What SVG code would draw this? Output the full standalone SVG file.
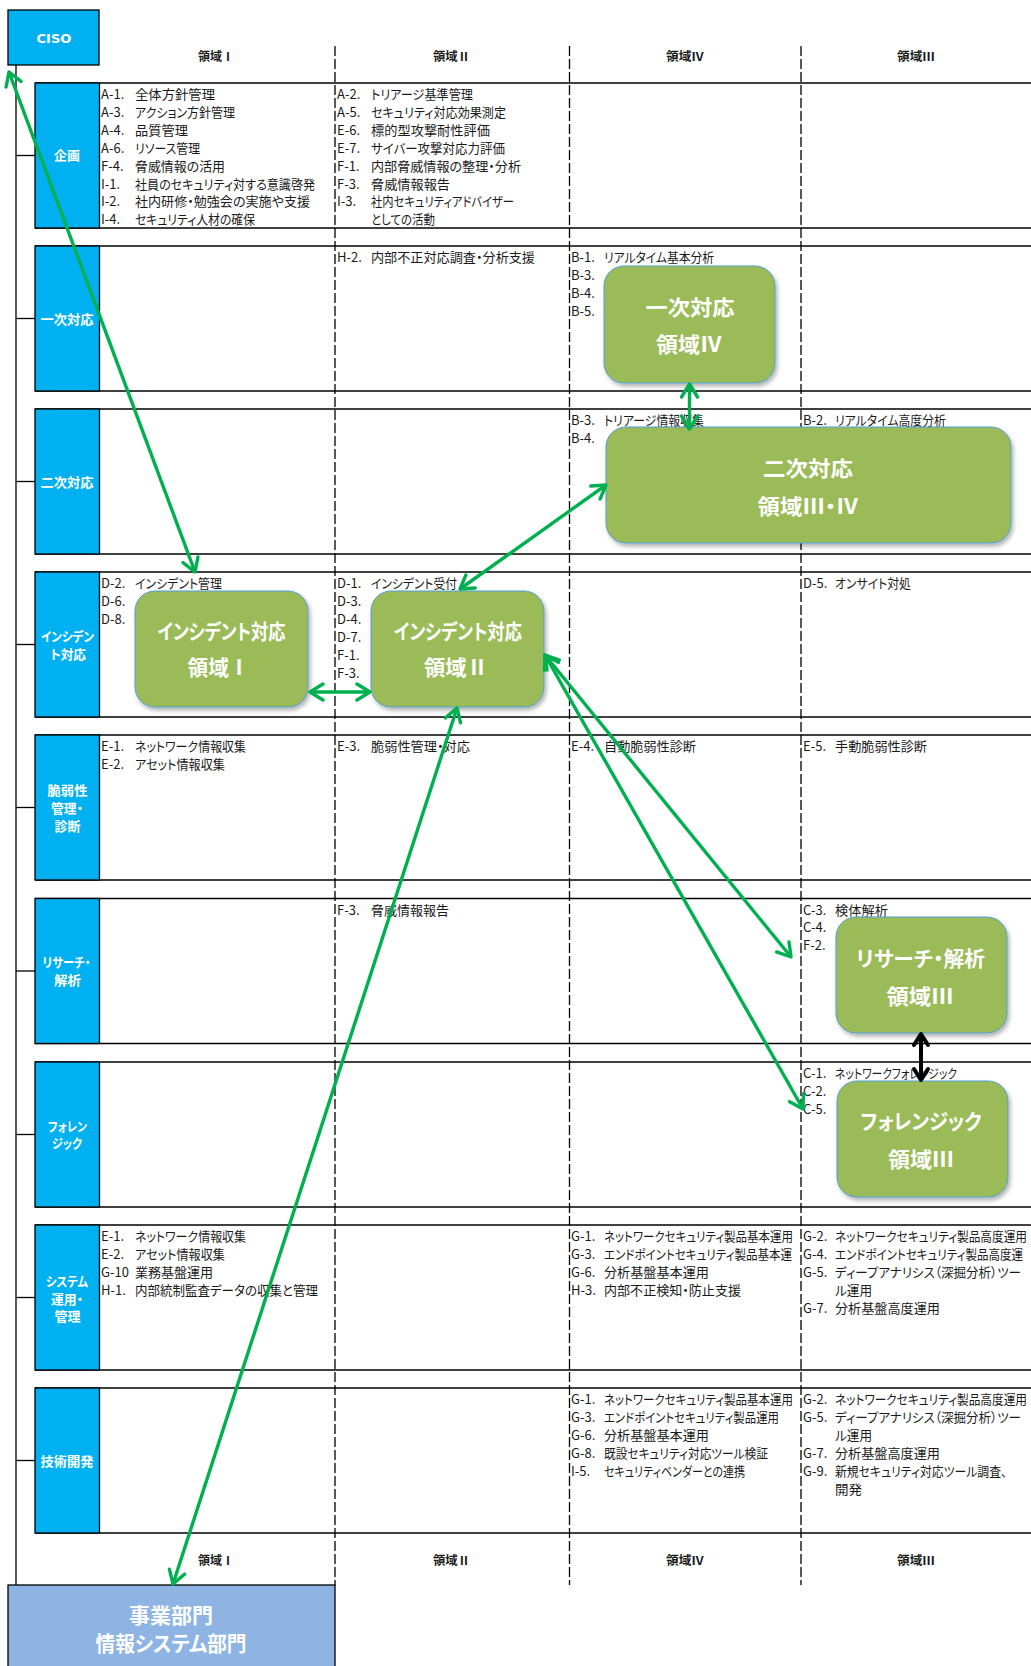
<svg xmlns="http://www.w3.org/2000/svg" width="1031" height="1666" viewBox="0 0 1031 1666">
<style>
.c{font-family:"Noto Sans CJK JP","Noto Sans",sans-serif;font-size:13px;fill:#1a1a1a;font-feature-settings:"palt"}
.rl{font-family:"Noto Sans CJK JP",sans-serif;font-size:13px;font-weight:bold;fill:#fff;text-anchor:middle;font-feature-settings:"palt"}
.hd{font-family:"Noto Sans CJK JP",sans-serif;font-size:12px;font-weight:bold;fill:#1a1a1a;text-anchor:middle;font-feature-settings:"palt"}
.nt{font-family:"Noto Sans CJK JP",sans-serif;font-size:21px;font-weight:bold;fill:#fff;text-anchor:middle;font-feature-settings:"palt"}
.node{fill:#9BBB59;stroke:#4F9FD6;stroke-width:1;filter:url(#sh)}
.lab{fill:#00B0F0;stroke:#000;stroke-width:1.3}
.hl{stroke:#000;stroke-width:1.3}
.dl{stroke:#000;stroke-width:1.3;stroke-dasharray:10 3}
.ga{stroke:#00B050;stroke-width:3.4;fill:none;marker-start:url(#ag);marker-end:url(#ag)}
.ba{stroke:#000;stroke-width:4;fill:none;marker-start:url(#ab);marker-end:url(#ab)}
</style>
<defs>
<filter id="sh" x="-10%" y="-10%" width="125%" height="130%">
<feDropShadow dx="2" dy="3" stdDeviation="2" flood-color="#000" flood-opacity="0.3"/>
</filter>
<marker id="ag" orient="auto-start-reverse" markerUnits="userSpaceOnUse" viewBox="0 0 20 20" markerWidth="20" markerHeight="20" refX="17" refY="10">
<path d="M4,2 L17,10 L4,18" fill="none" stroke="#00B050" stroke-width="3.4" stroke-linejoin="round" stroke-linecap="round"/>
</marker>
<marker id="ab" orient="auto-start-reverse" markerUnits="userSpaceOnUse" viewBox="0 0 20 20" markerWidth="20" markerHeight="20" refX="16" refY="10">
<path d="M5,3 L16,10 L5,17" fill="none" stroke="#000" stroke-width="4" stroke-linejoin="round" stroke-linecap="round"/>
</marker>
</defs>

<g id="table">
<line class="hl" x1="16" y1="65" x2="16" y2="1585"/>
<g id="ticks">
<line class="hl" x1="16" y1="155.5" x2="35" y2="155.5"/>
<line class="hl" x1="16" y1="318.5" x2="35" y2="318.5"/>
<line class="hl" x1="16" y1="481.5" x2="35" y2="481.5"/>
<line class="hl" x1="16" y1="644.5" x2="35" y2="644.5"/>
<line class="hl" x1="16" y1="807.5" x2="35" y2="807.5"/>
<line class="hl" x1="16" y1="971" x2="35" y2="971"/>
<line class="hl" x1="16" y1="1134.5" x2="35" y2="1134.5"/>
<line class="hl" x1="16" y1="1297.5" x2="35" y2="1297.5"/>
<line class="hl" x1="16" y1="1460.5" x2="35" y2="1460.5"/>
</g>
<g id="rowlines">
<line class="hl" x1="35" y1="83" x2="1031" y2="83"/><line class="hl" x1="35" y1="228" x2="1031" y2="228"/>
<line class="hl" x1="35" y1="246" x2="1031" y2="246"/><line class="hl" x1="35" y1="391" x2="1031" y2="391"/>
<line class="hl" x1="35" y1="409" x2="1031" y2="409"/><line class="hl" x1="35" y1="554" x2="1031" y2="554"/>
<line class="hl" x1="35" y1="572" x2="1031" y2="572"/><line class="hl" x1="35" y1="717" x2="1031" y2="717"/>
<line class="hl" x1="35" y1="735" x2="1031" y2="735"/><line class="hl" x1="35" y1="880" x2="1031" y2="880"/>
<line class="hl" x1="35" y1="898.5" x2="1031" y2="898.5"/><line class="hl" x1="35" y1="1043.5" x2="1031" y2="1043.5"/>
<line class="hl" x1="35" y1="1062" x2="1031" y2="1062"/><line class="hl" x1="35" y1="1207" x2="1031" y2="1207"/>
<line class="hl" x1="35" y1="1225" x2="1031" y2="1225"/><line class="hl" x1="35" y1="1370" x2="1031" y2="1370"/>
<line class="hl" x1="35" y1="1388" x2="1031" y2="1388"/><line class="hl" x1="35" y1="1533" x2="1031" y2="1533"/>
</g>
<g id="cols">
<line class="dl" x1="335" y1="46" x2="335" y2="1585"/>
<line class="dl" x1="569.5" y1="46" x2="569.5" y2="1585"/>
<line class="dl" x1="801" y1="46" x2="801" y2="1585"/>
</g>
<g id="headers">
<text class="hd" x="216" y="60.5" textLength="36" lengthAdjust="spacingAndGlyphs">領域Ⅰ</text>
<text class="hd" x="451.5" y="60.5" textLength="37" lengthAdjust="spacingAndGlyphs">領域Ⅱ</text>
<text class="hd" x="685" y="60.5" textLength="38" lengthAdjust="spacingAndGlyphs">領域Ⅳ</text>
<text class="hd" x="916" y="60.5" textLength="38" lengthAdjust="spacingAndGlyphs">領域Ⅲ</text>
<text class="hd" x="216" y="1564.5" textLength="36" lengthAdjust="spacingAndGlyphs">領域Ⅰ</text>
<text class="hd" x="451.5" y="1564.5" textLength="37" lengthAdjust="spacingAndGlyphs">領域Ⅱ</text>
<text class="hd" x="685" y="1564.5" textLength="38" lengthAdjust="spacingAndGlyphs">領域Ⅳ</text>
<text class="hd" x="916" y="1564.5" textLength="38" lengthAdjust="spacingAndGlyphs">領域Ⅲ</text>
</g>
<g id="rowlabels">
<rect class="lab" x="35" y="83" width="64.5" height="145"/><text class="rl" x="67" y="160" textLength="26" lengthAdjust="spacingAndGlyphs">企画</text>
<rect class="lab" x="35" y="246" width="64.5" height="145"/><text class="rl" x="67" y="323.5" textLength="53" lengthAdjust="spacingAndGlyphs">一次対応</text>
<rect class="lab" x="35" y="409" width="64.5" height="145"/><text class="rl" x="67" y="486.5" textLength="53" lengthAdjust="spacingAndGlyphs">二次対応</text>
<rect class="lab" x="35" y="572" width="64.5" height="145"/><text class="rl" x="67.5" y="641" textLength="53" lengthAdjust="spacingAndGlyphs">インシデン</text><text class="rl" x="68" y="659" textLength="36" lengthAdjust="spacingAndGlyphs">ト対応</text>
<rect class="lab" x="35" y="735" width="64.5" height="145"/><text class="rl" x="67.5" y="795" textLength="40" lengthAdjust="spacingAndGlyphs">脆弱性</text><text class="rl" x="67" y="813" textLength="32" lengthAdjust="spacingAndGlyphs">管理・</text><text class="rl" x="67.5" y="831" textLength="26" lengthAdjust="spacingAndGlyphs">診断</text>
<rect class="lab" x="35" y="898.5" width="64.5" height="145"/><text class="rl" x="66.5" y="966.5" textLength="48" lengthAdjust="spacingAndGlyphs">リサーチ・</text><text class="rl" x="67.5" y="985" textLength="27" lengthAdjust="spacingAndGlyphs">解析</text>
<rect class="lab" x="35" y="1062" width="64.5" height="145"/><text class="rl" x="67.5" y="1130.5" textLength="39" lengthAdjust="spacingAndGlyphs">フォレン</text><text class="rl" x="67" y="1148" textLength="30" lengthAdjust="spacingAndGlyphs">ジック</text>
<rect class="lab" x="35" y="1225" width="64.5" height="145"/><text class="rl" x="67" y="1285.5" textLength="42" lengthAdjust="spacingAndGlyphs">システム</text><text class="rl" x="67" y="1304" textLength="32" lengthAdjust="spacingAndGlyphs">運用・</text><text class="rl" x="67.5" y="1321" textLength="26" lengthAdjust="spacingAndGlyphs">管理</text>
<rect class="lab" x="35" y="1388" width="64.5" height="145"/><text class="rl" x="67" y="1466" textLength="53" lengthAdjust="spacingAndGlyphs">技術開発</text>
</g>
<g id="cells">
<text class="c" x="101" y="99">A-1.</text><text class="c" x="135" y="99" textLength="80" lengthAdjust="spacingAndGlyphs">全体方針管理</text>
<text class="c" x="101" y="116.9">A-3.</text><text class="c" x="135" y="116.9" textLength="100" lengthAdjust="spacingAndGlyphs">アクション方針管理</text>
<text class="c" x="101" y="134.8">A-4.</text><text class="c" x="135" y="134.8" textLength="53" lengthAdjust="spacingAndGlyphs">品質管理</text>
<text class="c" x="101" y="152.7">A-6.</text><text class="c" x="135" y="152.7" textLength="65" lengthAdjust="spacingAndGlyphs">リソース管理</text>
<text class="c" x="101" y="170.6">F-4.</text><text class="c" x="135" y="170.6" textLength="90" lengthAdjust="spacingAndGlyphs">脅威情報の活用</text>
<text class="c" x="101" y="188.5">I-1.</text><text class="c" x="135" y="188.5" textLength="180" lengthAdjust="spacingAndGlyphs">社員のセキュリティ対する意識啓発</text>
<text class="c" x="101" y="206.4">I-2.</text><text class="c" x="135" y="206.4" textLength="175" lengthAdjust="spacingAndGlyphs">社内研修・勉強会の実施や支援</text>
<text class="c" x="101" y="224.3">I-4.</text><text class="c" x="135" y="224.3" textLength="120" lengthAdjust="spacingAndGlyphs">セキュリティ人材の確保</text>
<text class="c" x="337" y="99">A-2.</text><text class="c" x="371" y="99" textLength="102" lengthAdjust="spacingAndGlyphs">トリアージ基準管理</text>
<text class="c" x="337" y="116.9">A-5.</text><text class="c" x="371" y="116.9" textLength="135" lengthAdjust="spacingAndGlyphs">セキュリティ対応効果測定</text>
<text class="c" x="337" y="134.8">E-6.</text><text class="c" x="371" y="134.8" textLength="119" lengthAdjust="spacingAndGlyphs">標的型攻撃耐性評価</text>
<text class="c" x="337" y="152.7">E-7.</text><text class="c" x="371" y="152.7" textLength="134" lengthAdjust="spacingAndGlyphs">サイバー攻撃対応力評価</text>
<text class="c" x="337" y="170.6">F-1.</text><text class="c" x="371" y="170.6" textLength="150" lengthAdjust="spacingAndGlyphs">内部脅威情報の整理・分析</text>
<text class="c" x="337" y="188.5">F-3.</text><text class="c" x="371" y="188.5" textLength="79" lengthAdjust="spacingAndGlyphs">脅威情報報告</text>
<text class="c" x="337" y="206.4">I-3.</text><text class="c" x="371" y="206.4" textLength="143" lengthAdjust="spacingAndGlyphs">社内セキュリティアドバイザー</text>
<text class="c" x="371" y="224.3" textLength="64" lengthAdjust="spacingAndGlyphs">としての活動</text>

<text class="c" x="337" y="262">H-2.</text><text class="c" x="371" y="262" textLength="164" lengthAdjust="spacingAndGlyphs">内部不正対応調査・分析支援</text>
<text class="c" x="571" y="262">B-1.</text><text class="c" x="604" y="262" textLength="110" lengthAdjust="spacingAndGlyphs">リアルタイム基本分析</text>
<text class="c" x="571" y="279.9">B-3.</text>
<text class="c" x="571" y="297.8">B-4.</text>
<text class="c" x="571" y="315.7">B-5.</text>

<text class="c" x="571" y="425">B-3.</text><text class="c" x="604" y="425" textLength="100" lengthAdjust="spacingAndGlyphs">トリアージ情報収集</text>
<text class="c" x="571" y="442.9">B-4.</text>
<text class="c" x="803" y="425">B-2.</text><text class="c" x="835" y="425" textLength="111" lengthAdjust="spacingAndGlyphs">リアルタイム高度分析</text>

<text class="c" x="101" y="588">D-2.</text><text class="c" x="135" y="588" textLength="87" lengthAdjust="spacingAndGlyphs">インシデント管理</text>
<text class="c" x="101" y="605.9">D-6.</text>
<text class="c" x="101" y="623.8">D-8.</text>
<text class="c" x="337" y="588">D-1.</text><text class="c" x="371" y="588" textLength="86" lengthAdjust="spacingAndGlyphs">インシデント受付</text>
<text class="c" x="337" y="605.9">D-3.</text>
<text class="c" x="337" y="623.8">D-4.</text>
<text class="c" x="337" y="641.7">D-7.</text>
<text class="c" x="337" y="659.6">F-1.</text>
<text class="c" x="337" y="677.5">F-3.</text>
<text class="c" x="803" y="588">D-5.</text><text class="c" x="835" y="588" textLength="76" lengthAdjust="spacingAndGlyphs">オンサイト対処</text>

<text class="c" x="101" y="751">E-1.</text><text class="c" x="135" y="751" textLength="111" lengthAdjust="spacingAndGlyphs">ネットワーク情報収集</text>
<text class="c" x="101" y="768.9">E-2.</text><text class="c" x="135" y="768.9" textLength="90" lengthAdjust="spacingAndGlyphs">アセット情報収集</text>
<text class="c" x="337" y="751">E-3.</text><text class="c" x="371" y="751" textLength="99" lengthAdjust="spacingAndGlyphs">脆弱性管理・対応</text>
<text class="c" x="571" y="751">E-4.</text><text class="c" x="604" y="751" textLength="92" lengthAdjust="spacingAndGlyphs">自動脆弱性診断</text>
<text class="c" x="803" y="751">E-5.</text><text class="c" x="835" y="751" textLength="92" lengthAdjust="spacingAndGlyphs">手動脆弱性診断</text>

<text class="c" x="337" y="914.5">F-3.</text><text class="c" x="371" y="914.5" textLength="78" lengthAdjust="spacingAndGlyphs">脅威情報報告</text>
<text class="c" x="803" y="914.5">C-3.</text><text class="c" x="835" y="914.5" textLength="53" lengthAdjust="spacingAndGlyphs">検体解析</text>
<text class="c" x="803" y="932.4">C-4.</text>
<text class="c" x="803" y="950.3">F-2.</text>

<text class="c" x="803" y="1078">C-1.</text><text class="c" x="835" y="1078" textLength="122" lengthAdjust="spacingAndGlyphs">ネットワークフォレンジック</text>
<text class="c" x="803" y="1095.9">C-2.</text>
<text class="c" x="803" y="1113.8">C-5.</text>

<text class="c" x="101" y="1241">E-1.</text><text class="c" x="135" y="1241" textLength="111" lengthAdjust="spacingAndGlyphs">ネットワーク情報収集</text>
<text class="c" x="101" y="1258.9">E-2.</text><text class="c" x="135" y="1258.9" textLength="90" lengthAdjust="spacingAndGlyphs">アセット情報収集</text>
<text class="c" x="101" y="1276.8">G-10</text><text class="c" x="135" y="1276.8" textLength="78" lengthAdjust="spacingAndGlyphs">業務基盤運用</text>
<text class="c" x="101" y="1294.7">H-1.</text><text class="c" x="135" y="1294.7" textLength="183" lengthAdjust="spacingAndGlyphs">内部統制監査データの収集と管理</text>
<text class="c" x="571" y="1241">G-1.</text><text class="c" x="604" y="1241" textLength="189" lengthAdjust="spacingAndGlyphs">ネットワークセキュリティ製品基本運用</text>
<text class="c" x="571" y="1258.9">G-3.</text><text class="c" x="604" y="1258.9" textLength="188" lengthAdjust="spacingAndGlyphs">エンドポイントセキュリティ製品基本運</text>
<text class="c" x="571" y="1276.8">G-6.</text><text class="c" x="604" y="1276.8" textLength="105" lengthAdjust="spacingAndGlyphs">分析基盤基本運用</text>
<text class="c" x="571" y="1294.7">H-3.</text><text class="c" x="604" y="1294.7" textLength="137" lengthAdjust="spacingAndGlyphs">内部不正検知・防止支援</text>
<text class="c" x="803" y="1241">G-2.</text><text class="c" x="835" y="1241" textLength="192" lengthAdjust="spacingAndGlyphs">ネットワークセキュリティ製品高度運用</text>
<text class="c" x="803" y="1258.9">G-4.</text><text class="c" x="835" y="1258.9" textLength="188" lengthAdjust="spacingAndGlyphs">エンドポイントセキュリティ製品高度運</text>
<text class="c" x="803" y="1276.8">G-5.</text><text class="c" x="835" y="1276.8" textLength="186" lengthAdjust="spacingAndGlyphs">ディープアナリシス（深掘分析）ツー</text>
<text class="c" x="835" y="1294.7" textLength="37" lengthAdjust="spacingAndGlyphs">ル運用</text>
<text class="c" x="803" y="1312.6">G-7.</text><text class="c" x="835" y="1312.6" textLength="105" lengthAdjust="spacingAndGlyphs">分析基盤高度運用</text>

<text class="c" x="571" y="1404">G-1.</text><text class="c" x="604" y="1404" textLength="189" lengthAdjust="spacingAndGlyphs">ネットワークセキュリティ製品基本運用</text>
<text class="c" x="571" y="1421.9">G-3.</text><text class="c" x="604" y="1421.9" textLength="175" lengthAdjust="spacingAndGlyphs">エンドポイントセキュリティ製品運用</text>
<text class="c" x="571" y="1439.8">G-6.</text><text class="c" x="604" y="1439.8" textLength="105" lengthAdjust="spacingAndGlyphs">分析基盤基本運用</text>
<text class="c" x="571" y="1457.7">G-8.</text><text class="c" x="604" y="1457.7" textLength="164" lengthAdjust="spacingAndGlyphs">既設セキュリティ対応ツール検証</text>
<text class="c" x="571" y="1475.6">I-5.</text><text class="c" x="604" y="1475.6" textLength="141" lengthAdjust="spacingAndGlyphs">セキュリティベンダーとの連携</text>
<text class="c" x="803" y="1404">G-2.</text><text class="c" x="835" y="1404" textLength="192" lengthAdjust="spacingAndGlyphs">ネットワークセキュリティ製品高度運用</text>
<text class="c" x="803" y="1421.9">G-5.</text><text class="c" x="835" y="1421.9" textLength="186" lengthAdjust="spacingAndGlyphs">ディープアナリシス（深掘分析）ツー</text>
<text class="c" x="835" y="1439.8" textLength="37" lengthAdjust="spacingAndGlyphs">ル運用</text>
<text class="c" x="803" y="1457.7">G-7.</text><text class="c" x="835" y="1457.7" textLength="105" lengthAdjust="spacingAndGlyphs">分析基盤高度運用</text>
<text class="c" x="803" y="1475.6">G-9.</text><text class="c" x="835" y="1475.6" textLength="172" lengthAdjust="spacingAndGlyphs">新規セキュリティ対応ツール調査、</text>
<text class="c" x="835" y="1493.5" textLength="27" lengthAdjust="spacingAndGlyphs">開発</text>
</g>
</g>

<g id="n-ciso">
<rect x="8" y="10" width="91" height="55" fill="#00B0F0" stroke="#000" stroke-width="1.3"/>
<text x="54" y="42.5" font-family="Verdana,'DejaVu Sans',sans-serif" font-size="12.5" font-weight="bold" fill="#fff" text-anchor="middle" textLength="35" lengthAdjust="spacingAndGlyphs">CISO</text>
</g>
<g id="n-biz">
<rect x="8" y="1585" width="327" height="90" fill="#8EB4E3" stroke="#000" stroke-width="1.3"/>
<text class="nt" x="171" y="1623" font-size="20" textLength="84" lengthAdjust="spacingAndGlyphs">事業部門</text>
<text class="nt" x="171" y="1651" font-size="20" textLength="151" lengthAdjust="spacingAndGlyphs">情報システム部門</text>
</g>
<g id="n-first">
<rect class="node" x="604" y="266" width="171" height="117" rx="20"/>
<text class="nt" x="690" y="314.5" textLength="89" lengthAdjust="spacingAndGlyphs">一次対応</text>
<text class="nt" x="689" y="352" textLength="66" lengthAdjust="spacingAndGlyphs">領域Ⅳ</text>
</g>
<g id="n-second">
<rect class="node" x="606" y="427" width="405" height="116" rx="20"/>
<text class="nt" x="808" y="476" textLength="90" lengthAdjust="spacingAndGlyphs">二次対応</text>
<text class="nt" x="808" y="514" textLength="101" lengthAdjust="spacingAndGlyphs">領域Ⅲ・Ⅳ</text>
</g>
<g id="n-inc1">
<rect class="node" x="135" y="591" width="173" height="116" rx="20"/>
<text class="nt" x="221.5" y="639" textLength="128" lengthAdjust="spacingAndGlyphs">インシデント対応</text>
<text class="nt" x="218.5" y="674.5" textLength="62" lengthAdjust="spacingAndGlyphs">領域Ⅰ</text>
</g>
<g id="n-inc2">
<rect class="node" x="371" y="591" width="173" height="116" rx="20"/>
<text class="nt" x="458" y="639" textLength="128" lengthAdjust="spacingAndGlyphs">インシデント対応</text>
<text class="nt" x="456" y="674.5" textLength="64" lengthAdjust="spacingAndGlyphs">領域Ⅱ</text>
</g>
<g id="n-research">
<rect class="node" x="836" y="917" width="171" height="116" rx="20"/>
<text class="nt" x="920.5" y="966" textLength="129" lengthAdjust="spacingAndGlyphs">リサーチ・解析</text>
<text class="nt" x="920" y="1003.5" textLength="67" lengthAdjust="spacingAndGlyphs">領域Ⅲ</text>
</g>
<g id="n-forensic">
<rect class="node" x="837" y="1081" width="171" height="116" rx="20"/>
<text class="nt" x="921" y="1129" textLength="121" lengthAdjust="spacingAndGlyphs">フォレンジック</text>
<text class="nt" x="921" y="1167" textLength="66" lengthAdjust="spacingAndGlyphs">領域Ⅲ</text>
</g>

<g id="connectors">
<line class="ga" x1="9" y1="72" x2="195" y2="572"/>
<line class="ga" x1="689.5" y1="384" x2="689.5" y2="429"/>
<line class="ga" x1="460" y1="589" x2="606" y2="485"/>
<line class="ga" x1="310" y1="692" x2="370" y2="692"/>
<line class="ga" x1="457" y1="708" x2="173" y2="1584"/>
<line class="ga" x1="545" y1="655" x2="791" y2="957"/>
<line class="ga" x1="545" y1="655" x2="803" y2="1109"/>
<line class="ba" x1="921" y1="1034" x2="921" y2="1080"/>
</g>
</svg>
